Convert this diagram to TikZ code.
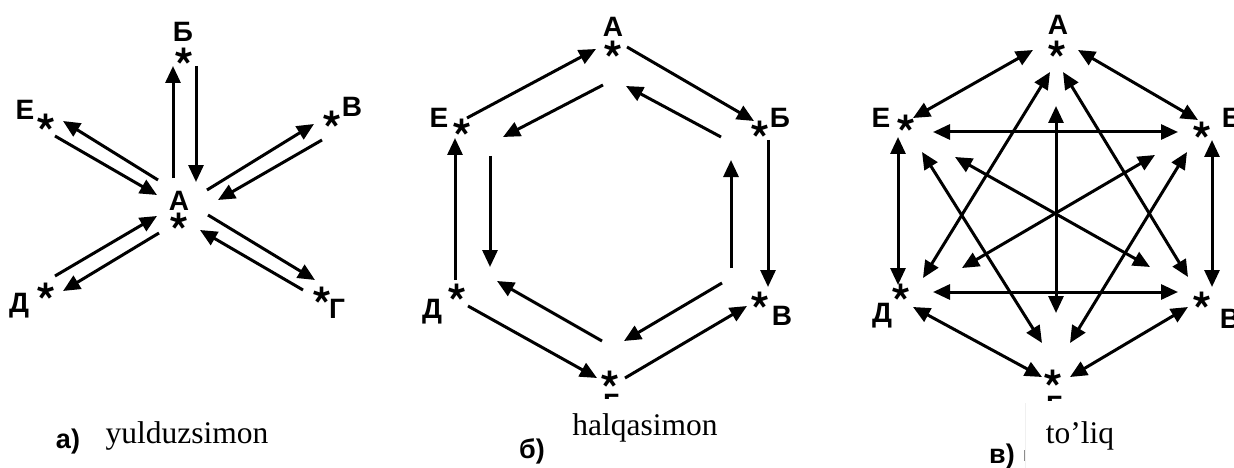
\documentclass[tikz,border=0pt]{standalone}
\usepackage{fontspec}
\setmainfont{Liberation Serif}
\newfontfamily\sansfnt{Liberation Sans}
\newfontfamily\starfnt{TeX Gyre Heros}
\usetikzlibrary{arrows.meta}
\tikzset{
  lbl/.style={font=\sansfnt\bfseries\fontsize{28}{28}\selectfont, inner sep=0pt, anchor=base},
  st/.style={font=\starfnt\bfseries\fontsize{50}{50}\selectfont, inner sep=0pt, anchor=base},
  capt/.style={font=\fontsize{31.5}{31.5}\selectfont, inner sep=0pt, anchor=base},
  sub/.style={font=\sansfnt\bfseries\fontsize{27}{27}\selectfont, inner sep=0pt, anchor=base},
  ar/.style={line width=3pt, -{Triangle[length=17pt,width=15pt]}},
  dar/.style={line width=3pt, {Triangle[length=17pt,width=15pt]}-{Triangle[length=17pt,width=15pt]}}
}
\newcommand{\stx}{\raisebox{-0.5em}{*}}
\begin{document}
\begin{tikzpicture}[x=1pt,y=-1pt]
\useasboundingbox (0,0) rectangle (1234,468);
% ---------- panel a ----------
\node[st] (aAs) at (179,224) {\stx};
\node[st] (aBs) at (184,60) {\stx};
\node[st] (aEs) at (46,125) {\stx};
\node[st] (aVs) at (332,122) {\stx};
\node[st] (aDs) at (46,294) {\stx};
\node[st] (aGs) at (322,298) {\stx};
\node[lbl] (aA) at (179,210) {А};
\node[lbl] (aB) at (183,42) {Б};
\node[lbl] (aE) at (25,120) {Е};
\node[lbl] (aV) at (352,117) {В};
\node[lbl] (aD) at (19,312) {Д};
\node[lbl] (aG) at (337,318) {Г};
\foreach \n/\x/\y/\u/\v in {
  a1/173/178/173/66, a2/196/66/196/182,
  a3/158/180/63/121, a4/55/136/157/195,
  a5/207/190/314/124, a6/322/140/218/200,
  a7/159/233/63/291, a8/55/276/157/216,
  a9/208/215/315/280, a10/303/290/200/230}
{ \coordinate (\n s) at (\x,\y); \coordinate (\n e) at (\u,\v);
  \draw[ar] (\n s) -- (\n e); }
\node[sub] (aL) at (68,448) {а)};
\node[capt] (aC) at (187,443) {yulduzsimon};
% ---------- panel b ----------
\node[st] (bAs) at (613,53) {\stx};
\node[st] (bBs) at (760,132) {\stx};
\node[st] (bVs) at (760,303) {\stx};
\node[st] (bGs) at (610,382) {\stx};
\node[st] (bDs) at (457,295) {\stx};
\node[st] (bEs) at (462,130) {\stx};
\node[lbl] (bA) at (613,37) {А};
\node[lbl] (bB) at (780,128) {Б};
\node[lbl] (bV) at (782,325) {В};
\node[lbl] (bD) at (432,318) {Д};
\node[lbl] (bE) at (439,128) {Е};
\begin{scope}
\clip (590,392) rectangle (630,398);
\node[lbl] (bG) at (611,413) {Г};
\end{scope}
\foreach \n/\x/\y/\u/\v in {
  b1/627/47/754/121, b2/768/140/768/287,
  b3/625/378/747/306, b4/468/306/597/378,
  b5/455/280/455/138, b6/467/118/596/49,
  b7/603/85/503/137, b8/490/156/490/267,
  b9/602/341/497/281, b10/722/283/624/341,
  b11/731/268/731/160, b12/721/137/626/86}
{ \coordinate (\n s) at (\x,\y); \coordinate (\n e) at (\u,\v);
  \draw[ar] (\n s) -- (\n e); }
\node[sub] (bL) at (532,458) {б)};
\node[capt] (bC) at (645,435) {halqasimon};
% ---------- panel c ----------
\node[st] (cAs) at (1057,53) {\stx};
\node[st] (cBs) at (1202,133) {\stx};
\node[st] (cVs) at (1202,303) {\stx};
\node[st] (cGs) at (1053,381) {\stx};
\node[st] (cDs) at (901,295) {\stx};
\node[st] (cEs) at (906,127) {\stx};
\node[lbl] (cA) at (1058,35) {А};
\node[lbl] (cB) at (1232,128) {Б};
\node[lbl] (cV) at (1230,328) {В};
\node[lbl] (cD) at (882,322) {Д};
\node[lbl] (cE) at (881,128) {Е};
\begin{scope}
\clip (1033,394) rectangle (1073,400);
\node[lbl] (cG) at (1054,415) {Г};
\end{scope}
\foreach \n/\x/\y/\u/\v in {
  c1/1033/50/913/118, c2/1078/50/1198/120,
  c3/1212/140/1212/287, c4/898/137/898/285,
  c5/913/307/1042/377, c6/1188/307/1070/377,
  c7/933/132/1178/132, c8/933/292/1178/292,
  c9/1056/106/1056/313, c10/1050/72/923/278,
  c11/1063/72/1188/277, c12/922/152/1042/343,
  c13/1187/152/1070/343, c14/955/157/1150/267,
  c15/1155/155/962/268}
{ \coordinate (\n s) at (\x,\y); \coordinate (\n e) at (\u,\v);
  \draw[dar] (\n s) -- (\n e); }
\node[sub] (cL) at (1002,463) {в)};
\node[capt] (cC) at (1080,443) {to’liq};
\draw[black!6, line width=0.5pt] (1025,403) -- (1025,468);
\draw[black!45, line width=1pt] (1024,450) -- (1024,461);
\end{tikzpicture}
\end{document}
